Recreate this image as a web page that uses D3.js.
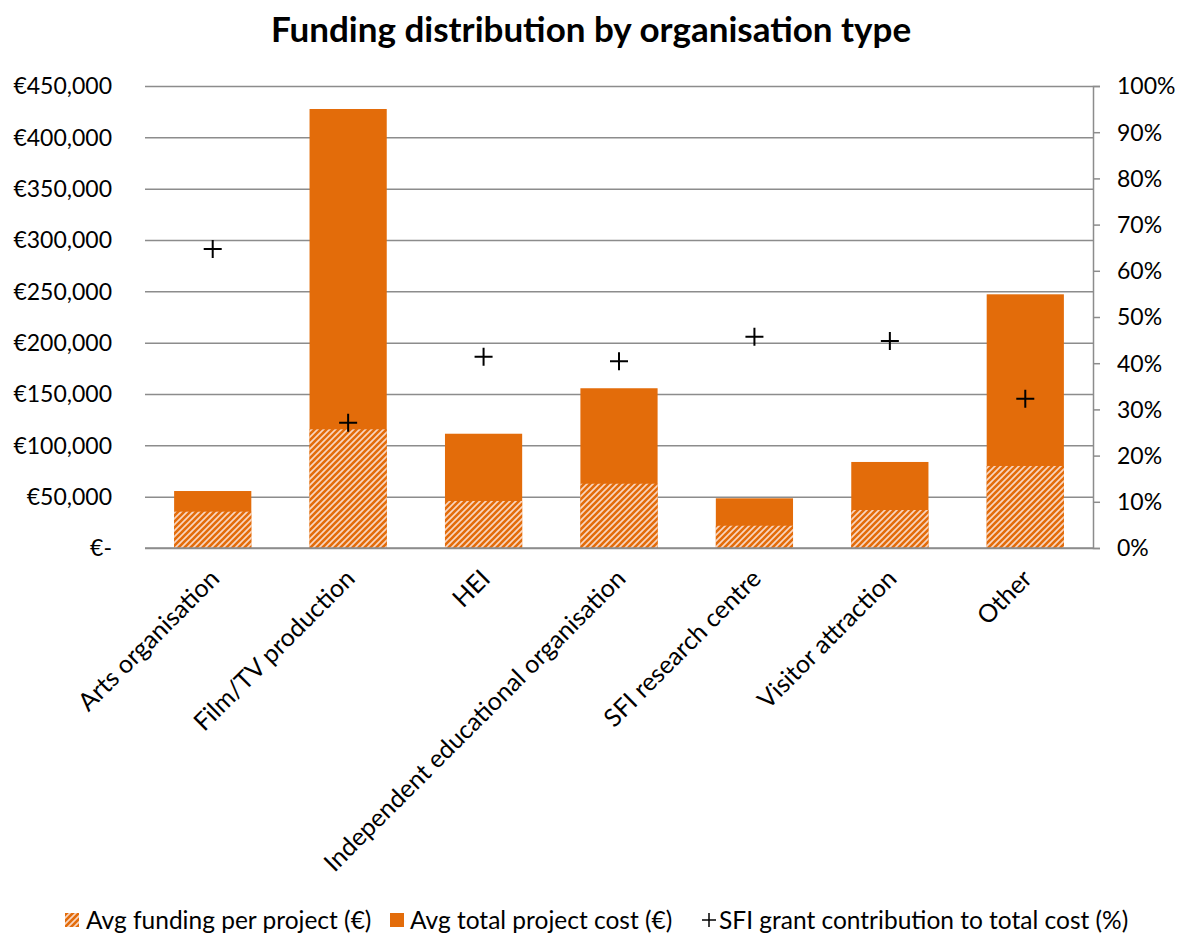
<!DOCTYPE html>
<html>
<head>
<meta charset="utf-8">
<script src="https://cdn.jsdelivr.net/npm/d3@7"></script>
<style>
  html, body { margin: 0; padding: 0; background: #fff; }
  svg text { font-family: Lato, "Open Sans", sans-serif; fill: #000; }
</style>
</head>
<body>
<svg id="chart" width="1178" height="935"></svg>
<script>
// Organisation types along the x axis
const categories = [
  "Arts organisation",
  "Film/TV production",
  "HEI",
  "Independent educational organisation",
  "SFI research centre",
  "Visitor attraction",
  "Other"
];
// Average funding per project (€)
const avgFunding = [35400, 115600, 45800, 62600, 21700, 37000, 79900];
// Average total project cost (€)
const avgTotalCost = [55500, 427600, 111300, 155600, 48400, 83800, 247100];
// SFI grant contribution to total cost (share)
const grantShare = [0.647, 0.271, 0.414, 0.404, 0.457, 0.448, 0.323];

const euroTicks = [0, 50000, 100000, 150000, 200000, 250000, 300000, 350000, 400000, 450000];
const pctTicks = [0, 0.1, 0.2, 0.3, 0.4, 0.5, 0.6, 0.7, 0.8, 0.9, 1.0];

const legendLabels = [
  "Avg funding per project (€)",
  "Avg total project cost (€)",
  "SFI grant contribution to total cost (%)"
];

const ORANGE = "#e36c0a";
const GRID = "#8c8c8c";

const svg = d3.select("#chart");
const plot = { left: 145, right: 1093, top: 86, bottom: 548 };

const x = d3.scaleBand()
  .domain(categories)
  .range([plot.left, plot.right])
  .paddingInner(0.43)
  .paddingOuter(0.215);

const yEuro = d3.scaleLinear().domain([0, 450000]).range([plot.bottom, plot.top]);
const yPct = d3.scaleLinear().domain([0, 1]).range([plot.bottom, plot.top]);

// Diagonal hatch for the funding series
const defs = svg.append("defs");
const pat = defs.append("pattern")
  .attr("id", "hatch")
  .attr("patternUnits", "userSpaceOnUse")
  .attr("width", 6).attr("height", 6);
pat.append("rect").attr("width", 6).attr("height", 6).attr("fill", "#f9d6c1");
pat.append("path")
  .attr("d", "M-1,1 L1,-1 M0,6 L6,0 M5,7 L7,5")
  .attr("stroke", ORANGE).attr("stroke-width", 2.6);

// Title
svg.append("text")
  .attr("x", 591).attr("y", 42)
  .attr("text-anchor", "middle")
  .style("font-size", "35px").style("font-weight", "bold")
  .text("Funding distribution by organisation type");

// Horizontal gridlines from the euro axis
const leftAxis = d3.axisLeft(yEuro)
  .tickValues(euroTicks)
  .tickSize(-(plot.right - plot.left))
  .tickPadding(33)
  .tickFormat(d => d === 0 ? "€-" : "€" + d3.format(",")(d));

const gl = svg.append("g")
  .attr("transform", `translate(${plot.left},0)`)
  .call(leftAxis);
gl.select(".domain").remove();
gl.selectAll(".tick line").attr("stroke", GRID).attr("stroke-width", 1.5);
gl.selectAll(".tick text").style("font-size", "23px").attr("dy", "0.34em");

// Right percent axis
const rightAxis = d3.axisRight(yPct)
  .tickValues(pctTicks)
  .tickSize(7)
  .tickPadding(17)
  .tickFormat(d3.format(".0%"));
const gr = svg.append("g")
  .attr("transform", `translate(${plot.right},0)`)
  .call(rightAxis);
gr.select(".domain").attr("stroke", GRID).attr("stroke-width", 1.5);
gr.selectAll(".tick line").attr("stroke", GRID).attr("stroke-width", 1.5);
gr.selectAll(".tick text").style("font-size", "23px").attr("dy", "0.34em");

// Total cost bars (behind), funding bars (front)
svg.append("g").selectAll("rect")
  .data(categories)
  .join("rect")
  .attr("x", d => x(d))
  .attr("width", x.bandwidth())
  .attr("y", (d, i) => yEuro(avgTotalCost[i]))
  .attr("height", (d, i) => yEuro(0) - yEuro(avgTotalCost[i]))
  .attr("fill", ORANGE);

svg.append("g").selectAll("rect")
  .data(categories)
  .join("rect")
  .attr("x", d => x(d))
  .attr("width", x.bandwidth())
  .attr("y", (d, i) => yEuro(avgFunding[i]))
  .attr("height", (d, i) => yEuro(0) - yEuro(avgFunding[i]))
  .attr("fill", "url(#hatch)");

// Zero line redrawn over the bars
svg.append("line")
  .attr("x1", plot.left).attr("x2", plot.right)
  .attr("y1", yEuro(0)).attr("y2", yEuro(0))
  .attr("stroke", GRID).attr("stroke-width", 1.5);

// Grant share markers
const plusPath = "M-9,0 H9 M0,-9 V9";
svg.append("g").selectAll("path")
  .data(categories)
  .join("path")
  .attr("transform", (d, i) => `translate(${x(d) + x.bandwidth() / 2},${yPct(grantShare[i])})`)
  .attr("d", plusPath)
  .attr("stroke", "#000").attr("stroke-width", 2).attr("fill", "none");

// Rotated category labels
svg.append("g").selectAll("text")
  .data(categories)
  .join("text")
  .attr("transform", d => `translate(${x(d) + x.bandwidth() / 2 + 2},${plot.bottom + 26}) rotate(-45)`)
  .attr("text-anchor", "end")
  .attr("dy", "0.35em")
  .style("font-size", "25px")
  .text(d => d);

// Legend
const lg = svg.append("g").attr("transform", "translate(0,920)");
lg.append("rect").attr("x", 65).attr("y", -7).attr("width", 14).attr("height", 14).attr("fill", "url(#hatch)");
lg.append("text").attr("x", 86).attr("dy", "0.35em").style("font-size", "24.5px").text(legendLabels[0]);
lg.append("rect").attr("x", 390).attr("y", -7).attr("width", 14).attr("height", 14).attr("fill", ORANGE);
lg.append("text").attr("x", 410).attr("dy", "0.35em").style("font-size", "24.5px").text(legendLabels[1]);
lg.append("path").attr("transform", "translate(709,0)").attr("d", "M-7,0 H7 M0,-7 V7")
  .attr("stroke", "#000").attr("stroke-width", 1.5);
lg.append("text").attr("x", 719).attr("dy", "0.35em").style("font-size", "24.5px").text(legendLabels[2]);
</script>
</body>
</html>
